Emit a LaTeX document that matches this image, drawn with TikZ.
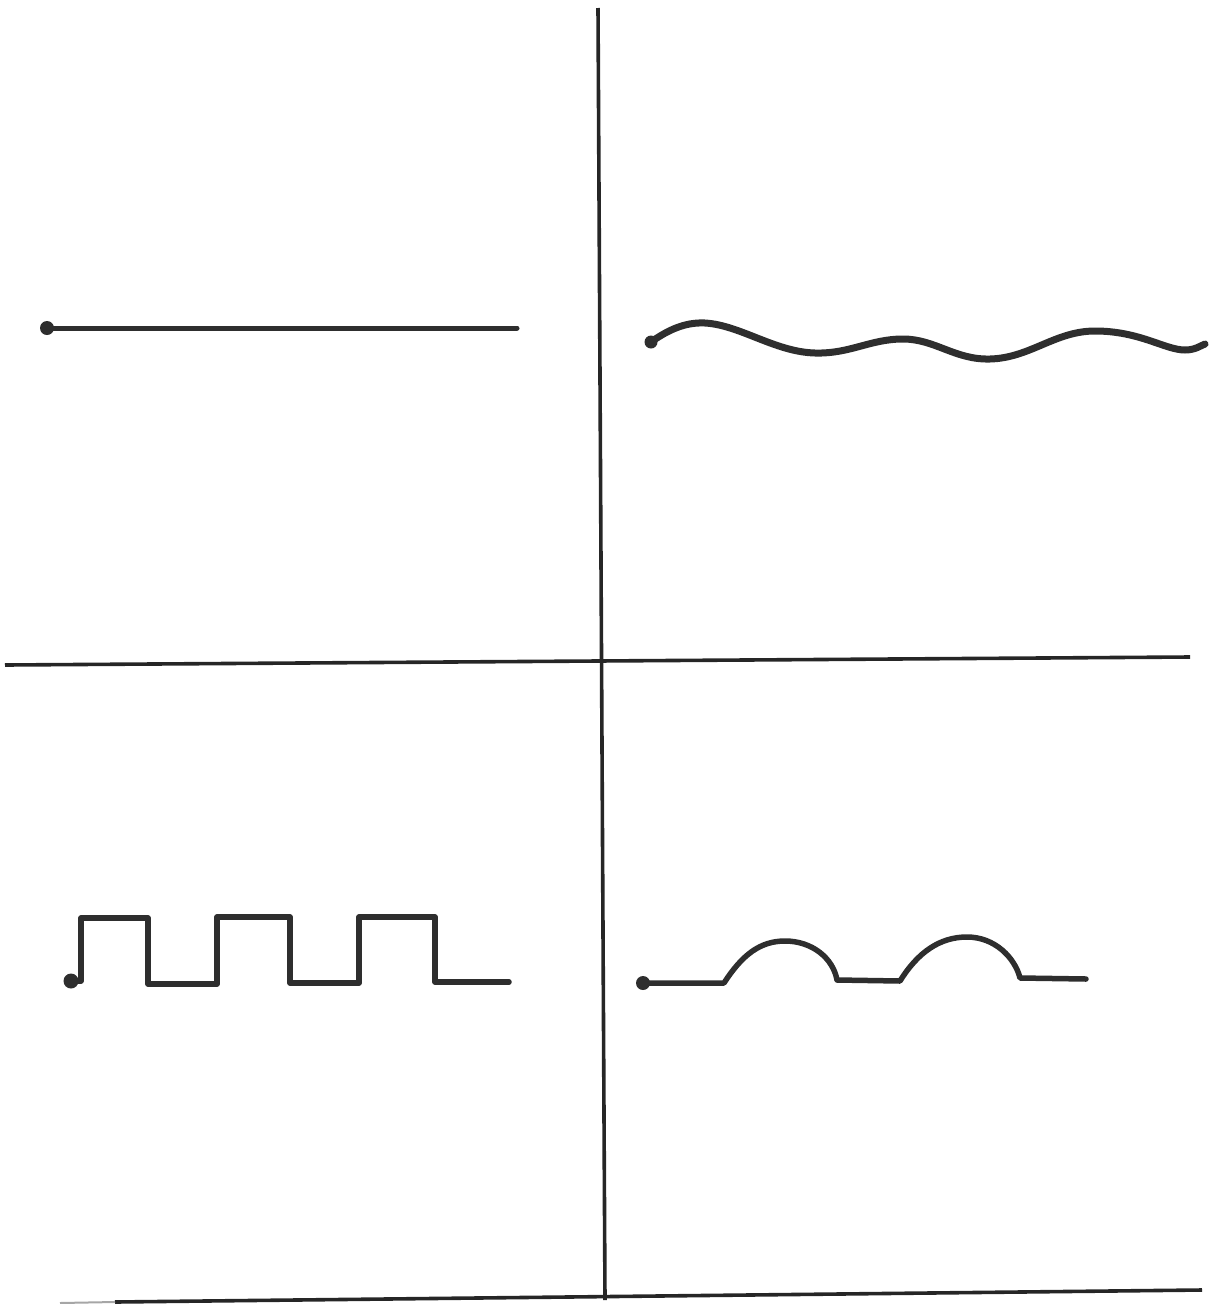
\documentclass[tikz,border=0pt]{standalone}
\begin{document}
\begin{tikzpicture}[x=1pt,y=-1pt,
  ink/.style={draw=black!82,line width=5.5pt,line cap=round,line join=round},
  axis/.style={draw=black!85,line width=3.6pt,line cap=butt},
  dotmark/.style={fill=black!82}]
\useasboundingbox (0,0) rectangle (1214,1304);
% frame lines
\draw[axis] (598,8) -- (605,1300);
\draw[axis] (5,665) -- (1190,657);
\draw[axis] (115,1302) -- (1202,1290);
\draw[draw=black!35,line width=2pt] (60,1303) -- (115,1302);
% top-left: straight line
\coordinate (a0) at (47,328);
\draw[ink,line width=5pt] (a0) -- (517,328);
\fill[dotmark] (a0) circle (7);
% top-right: wavy line
\coordinate (b0) at (651,342);
\draw[ink,line width=7pt] (b0) .. controls (668,330) and (685,322) .. (705,323)
  .. controls (740,325) and (775,352) .. (815,353)
  .. controls (850,354) and (870,339) .. (903,339)
  .. controls (935,339) and (955,360) .. (990,359)
  .. controls (1030,358) and (1055,331) .. (1095,331)
  .. controls (1140,331) and (1165,350) .. (1185,350)
  .. controls (1195,350) and (1200,346) .. (1205,344);
\fill[dotmark] (b0) circle (6.5);
% bottom-left: square wave
\coordinate (c0) at (71,981);
\draw[ink] (c0) -- (81,981) -- (81,918) -- (148,918) -- (148,984) -- (217,984)
  -- (217,917) -- (290,917) -- (290,983) -- (359,983) -- (359,917) -- (435,917)
  -- (435,982) -- (509,982);
\fill[dotmark] (c0) circle (7.5);
% bottom-right: humps
\coordinate (d0) at (643,983);
\draw[ink] (d0) -- (724,983)
  .. controls (742,955) and (760,941) .. (785,941)
  .. controls (812,941) and (833,958) .. (837,980)
  -- (900,981)
  .. controls (918,952) and (940,937) .. (967,937)
  .. controls (995,937) and (1015,958) .. (1020,978)
  -- (1086,979);
\fill[dotmark] (d0) circle (7);
\end{tikzpicture}
\end{document}
